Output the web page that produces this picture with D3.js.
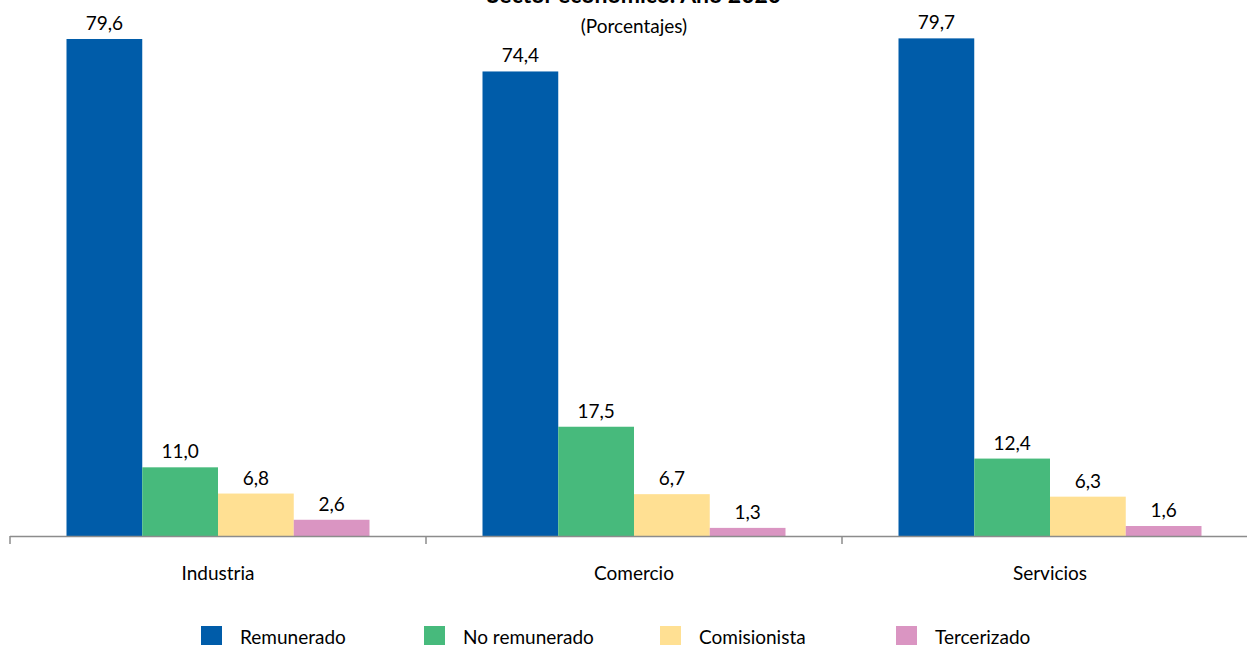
<!DOCTYPE html>
<html>
<head>
<meta charset="utf-8">
<script src="https://cdn.jsdelivr.net/npm/d3@7"></script>
<style>
  html, body { margin: 0; padding: 0; background: #fff; }
  svg { display: block; font-family: Lato, "Open Sans", sans-serif; }
</style>
</head>
<body>
<svg id="chart" width="1247" height="646"></svg>
<script>
const categories = ["Industria", "Comercio", "Servicios"];
const seriesNames = ["Remunerado", "No remunerado", "Comisionista", "Tercerizado"];
const remunerado = [79.6, 74.4, 79.7];
const noRemunerado = [11.0, 17.5, 12.4];
const comisionista = [6.8, 6.7, 6.3];
const tercerizado = [2.6, 1.3, 1.6];
const titleText = "Sector económico. Año 2020";
const subtitleText = "(Porcentajes)";

const seriesValues = [remunerado, noRemunerado, comisionista, tercerizado];
const colors = ["#005CA9", "#47BA7C", "#FFE093", "#DA95C2"];

const svg = d3.select("#chart");
const W = 1247, H = 646;
const baseY = 536;

const x0 = d3.scaleBand().domain(categories).range([10, 1258]).padding(0);
const groupPad = 56.5;
const x1 = d3.scaleBand().domain(seriesNames).range([groupPad, x0.bandwidth() - groupPad]).padding(0);
const y = d3.scaleLinear().domain([0, 80]).range([baseY, 36.5]);
const color = d3.scaleOrdinal().domain(seriesNames).range(colors);

const fmt = v => d3.format(".1f")(v).replace(".", ",");

// Title (partially cut off at the top, as in the reference)
svg.append("text")
  .attr("x", 634).attr("y", 2.5)
  .attr("text-anchor", "middle")
  .attr("font-weight", "bold")
  .attr("font-size", 23)
  .attr("fill", "#000")
  .text(titleText);

svg.append("text")
  .attr("x", 634).attr("y", 33)
  .attr("text-anchor", "middle")
  .attr("font-size", 19)
  .attr("fill", "#000")
  .text(subtitleText);

// Bars
const groups = svg.append("g").selectAll("g")
  .data(categories)
  .join("g")
  .attr("transform", d => `translate(${x0(d)},0)`);

groups.selectAll("rect")
  .data((c, ci) => seriesNames.map((s, si) => ({ s, v: seriesValues[si][ci] })))
  .join("rect")
  .attr("x", d => x1(d.s))
  .attr("width", x1.bandwidth())
  .attr("y", d => y(d.v))
  .attr("height", d => baseY - y(d.v))
  .attr("fill", d => color(d.s));

groups.selectAll("text.val")
  .data((c, ci) => seriesNames.map((s, si) => ({ s, v: seriesValues[si][ci] })))
  .join("text")
  .attr("class", "val")
  .attr("x", d => x1(d.s) + x1.bandwidth() / 2)
  .attr("y", d => y(d.v) - 9)
  .attr("text-anchor", "middle")
  .attr("font-size", 19)
  .attr("fill", "#000")
  .text(d => fmt(d.v));

// Axis
const axis = svg.append("g");
axis.append("line")
  .attr("x1", 10).attr("x2", 1258)
  .attr("y1", baseY + 0.5).attr("y2", baseY + 0.5)
  .attr("stroke", "#8c8c8c").attr("stroke-width", 1.5);
const tickXs = categories.map(c => x0(c)).concat([x0.range()[1]]);
axis.selectAll("line.tick")
  .data(tickXs)
  .join("line")
  .attr("class", "tick")
  .attr("x1", d => d).attr("x2", d => d)
  .attr("y1", baseY).attr("y2", baseY + 8)
  .attr("stroke", "#8c8c8c").attr("stroke-width", 1.5);
axis.selectAll("text")
  .data(categories)
  .join("text")
  .attr("x", d => x0(d) + x0.bandwidth() / 2)
  .attr("y", 580)
  .attr("text-anchor", "middle")
  .attr("font-size", 19)
  .attr("fill", "#000")
  .text(d => d);

// Legend
const legendX = [201, 424, 660, 896];
const legend = svg.append("g").selectAll("g")
  .data(seriesNames)
  .join("g")
  .attr("transform", (d, i) => `translate(${legendX[i]},626)`);
legend.append("rect")
  .attr("width", 21).attr("height", 19)
  .attr("fill", d => color(d));
legend.append("text")
  .attr("x", 39).attr("y", 17.5)
  .attr("font-size", 19)
  .attr("fill", "#000")
  .text(d => d);
</script>
</body>
</html>
